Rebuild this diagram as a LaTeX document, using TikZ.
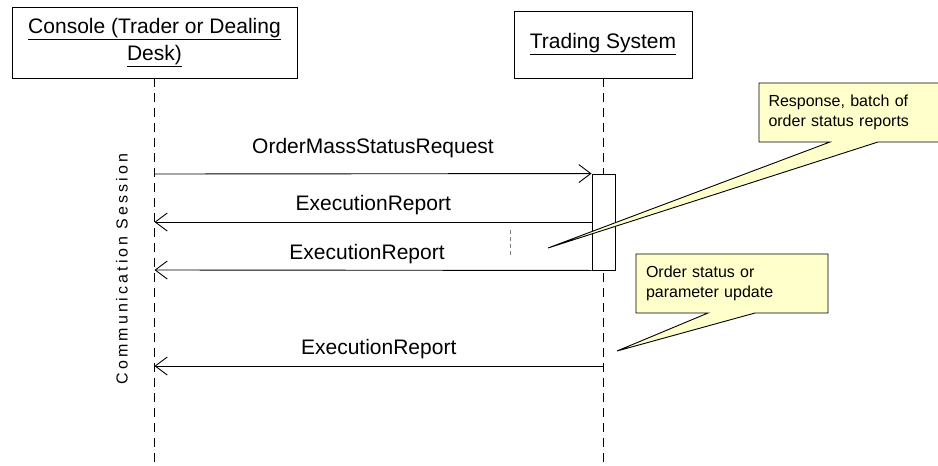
\documentclass[tikz,border=0pt]{standalone}
\usepackage{fontspec}
\setmainfont{Liberation Sans}
\newfontfamily\spacedfont[LetterSpace=19]{Liberation Sans}
\usetikzlibrary{arrows.meta, positioning}
\definecolor{notefill}{RGB}{255,255,204}

\begin{document}
\begin{tikzpicture}[x=1pt, y=-1pt, line width=0.9pt]
\tikzstyle{actor}=[draw=black, rectangle, align=center, inner sep=0pt, font=\fontsize{21}{27}\selectfont]
\tikzstyle{lifeline}=[dash pattern=on 9pt off 6pt]
\tikzstyle{msg}=[-{Straight Barb[length=12pt, width=18pt]}]
\tikzstyle{msglabel}=[font=\fontsize{21}{25}\selectfont, above=3pt, midway]
\tikzstyle{note}=[draw=black, fill=notefill, line join=miter]
\tikzstyle{notetext}=[font=\fontsize{16}{20}\selectfont, align=left, inner sep=0pt]
\useasboundingbox (0,0) rectangle (938,466);
% heads and lifelines
\node[actor, minimum width=285pt, minimum height=71pt] (console) at (154.5,42.5) {\underline{Console (Trader or Dealing}\\\underline{Desk)}};
\node[actor, minimum width=178pt, minimum height=67pt] (trading) at (603,44.5) {\underline{Trading System}};
\coordinate (console end) at (154.5,466);
\coordinate (trading end) at (603,466);
\draw[lifeline] (console.south) -- (console end);
\draw[lifeline] (trading.south) -- (trading end);
\node[draw, fill=white, minimum width=23pt, minimum height=96pt, inner sep=0pt] (act) at (603.5,222) {};
\node[rotate=90, font=\spacedfont\fontsize{16}{20}\selectfont] (session) at (122,269) {Communication Session};
% messages
\coordinate (c1) at (154.5,174);
\coordinate (c2) at (154.5,222);
\coordinate (c3) at (154.5,270);
\coordinate (c4) at (154.5,366);
\coordinate (a2) at (592,222);
\coordinate (t4) at (603,366);
\draw[msg] (c1) -- node[msglabel, above=12pt] {OrderMassStatusRequest} (act.north west);
\draw[msg] (a2) -- node[msglabel] {ExecutionReport} (c2);
\draw[msg] (act.south west) -- node[msglabel, xshift=-6pt] {ExecutionReport} (c3);
\draw[msg] (t4) -- node[msglabel] {ExecutionReport} (c4);
\draw[gray, line width=0.8pt, dash pattern=on 4pt off 3pt] (510,230) -- (510,257);
% notes
\coordinate (tip1) at (548,248);
\coordinate (tip2) at (617,351);
\path[note] (759,83) -- (940,83) -- (940,142) -- (878,142) -- (tip1) -- (830,142) -- (759,142) -- cycle;
\node[notetext, text width=159pt] (note1) at (848,112) {Response, batch of\\order status reports};
\path[note] (636,254) -- (828,254) -- (828,313) -- (755,313) -- (tip2) -- (708,313) -- (636,313) -- cycle;
\node[notetext, text width=172pt] (note2) at (732,283.5) {Order status or\\parameter update};
\end{tikzpicture}
\end{document}
